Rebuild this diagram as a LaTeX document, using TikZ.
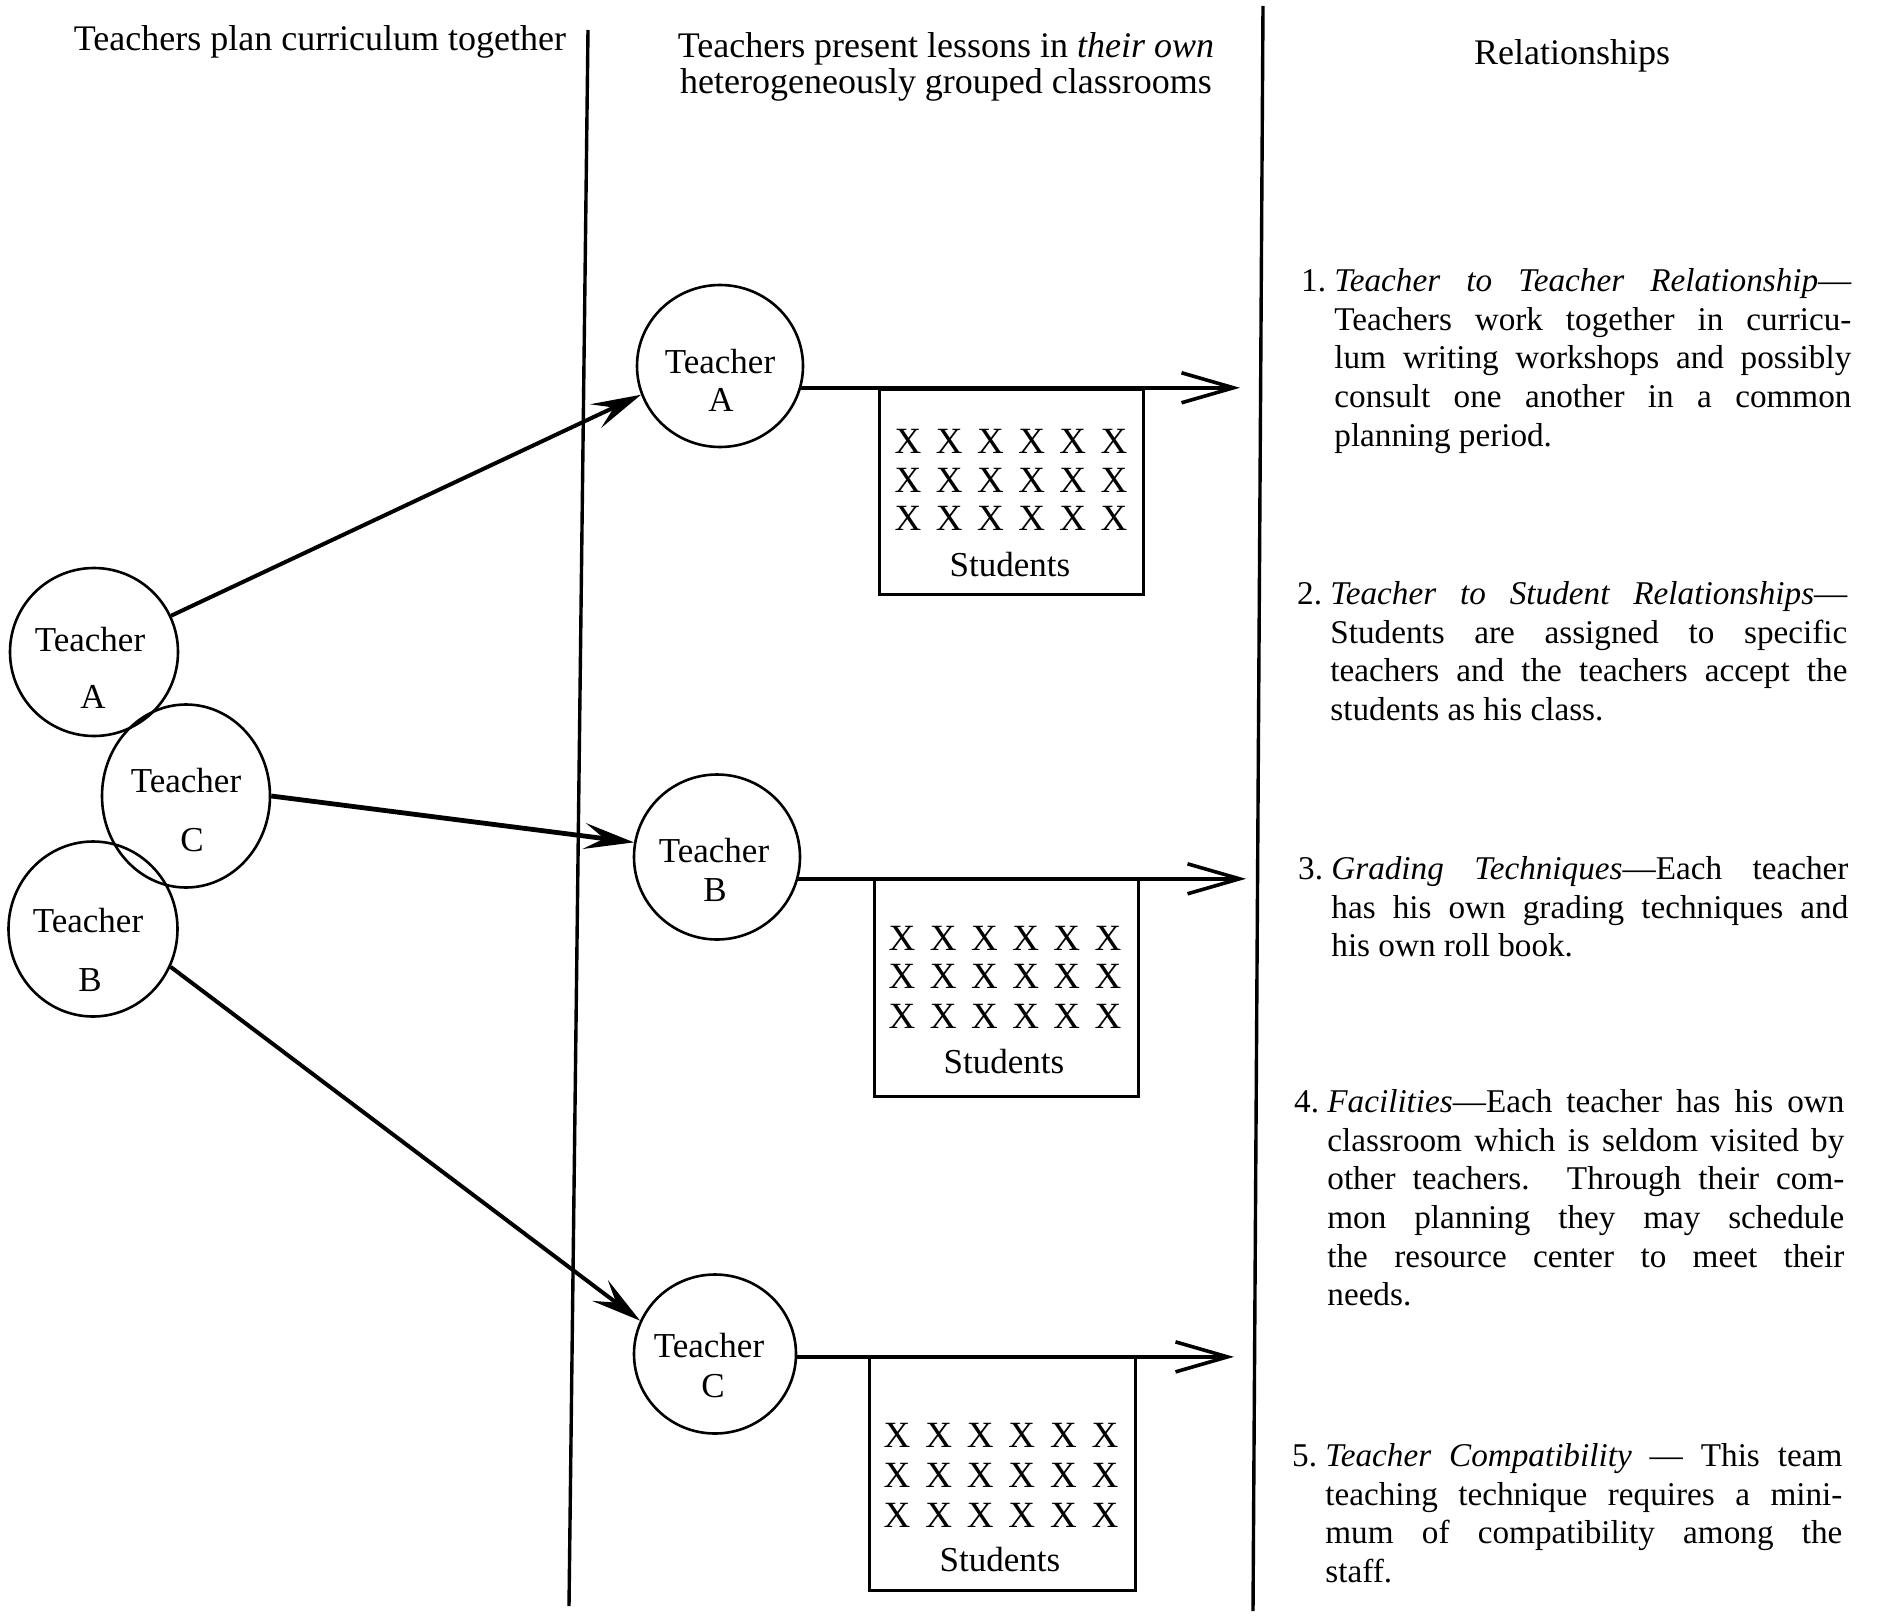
\documentclass[tikz,border=0pt]{standalone}
\usepackage{fontspec}
\setmainfont{Liberation Serif}
\usetikzlibrary{arrows.meta,shapes.geometric}
\newlength\relw
\setlength\relw{258.5pt}
\newcommand\jline[1]{\noindent\hbox to\relw{#1}\par}
\newcommand\lline[1]{\noindent\hbox to\relw{#1\hfil}\par}
\newcommand\relblock[1]{\vbox{\hsize=\relw\parindent=0pt\parskip=0pt\fontsize{16.6pt}{19.35pt}\selectfont #1}}
\begin{document}
\begin{tikzpicture}[x=0.5pt,y=-0.5pt,
  tc/.style={draw,ellipse,line width=1.3pt,inner sep=0pt},
  tt/.style={font=\fontsize{17.5pt}{20pt}\selectfont,inner sep=0pt},
  ttl/.style={font=\fontsize{18pt}{18pt}\selectfont,inner sep=0pt,align=center},
  sbox/.style={draw,line width=1.6pt,rectangle,inner sep=0pt,anchor=north west},
  xm/.style={font=\fontsize{18.5pt}{20pt}\selectfont,inner sep=0pt},
  rel/.style={anchor=north west,inner sep=0pt},
  harrow/.style={line width=1.8pt,-{Straight Barb[length=26pt,width=15pt]}},
  darrow/.style={line width=2pt,-{Stealth[length=25pt,width=13pt,inset=10pt]}},
  divider/.style={line width=1.7pt}]

\fill[white] (0,0) rectangle (1885,1616);
\useasboundingbox (0,0) rectangle (1885,1616);

% dividers
\draw[divider] (588,30) -- (569,1606);
\draw[divider] (1263,6) -- (1253,1611);

% titles
\node[ttl] (t1) at (320,42) {Teachers\ plan\ curriculum\ together};
\node[ttl] (t2) at (946,67) {Teachers present lessons in \textit{their own}\\heterogeneously grouped classrooms};
\node[ttl] (t3) at (1572,56) {Relationships};

% left circles
\node[tc,minimum width=84pt,minimum height=84pt] (lA) at (94,652) {};
\node[tc,minimum width=84pt,minimum height=91.5pt] (lC) at (186,796) {};
\node[tc,minimum width=84.5pt,minimum height=87.5pt] (lB) at (93,929) {};
\node[tt] (lAt) at (90,640) {Teacher};
\node[tt] (lAl) at (93,697) {A};
\node[tt] (lCt) at (186,781) {Teacher};
\node[tt] (lCl) at (192,840) {C};
\node[tt] (lBt) at (88,921) {Teacher};
\node[tt] (lBl) at (90,980) {B};

% middle circles
\node[tc,minimum width=83pt,minimum height=81pt] (mA) at (720,366) {};
\node[tc,minimum width=83pt,minimum height=82.5pt] (mB) at (717,857) {};
\node[tc,minimum width=81pt,minimum height=79.5pt] (mC) at (715,1354) {};
\node[tt] (mAt) at (720,362) {Teacher};
\node[tt] (mAl) at (721,400) {A};
\node[tt] (mBt) at (714,851) {Teacher};
\node[tt] (mBl) at (715,890) {B};
\node[tt] (mCt) at (709,1346) {Teacher};
\node[tt] (mCl) at (713,1386) {C};

% diagonal arrows
\draw[darrow] (lA) -- (mA.200);
\draw[darrow,line width=2.4pt] (lC.east) -- (mB.170);
\draw[darrow] (lB.-26) -- (mC.156);

% student boxes
\node[sbox,minimum width=132pt,minimum height=102.5pt] (sA) at (878,388) {};
\node[sbox,minimum width=132pt,minimum height=108.5pt] (sB) at (873,878) {};
\node[sbox,minimum width=133pt,minimum height=116.5pt] (sC) at (868,1356) {};

\foreach \r/\y in {0/441,1/480,2/518}
  \foreach \c in {0,...,5}
    \node[xm] (xA\r\c) at ({908+41.2*\c},\y) {X};
\foreach \r/\y in {0/938,1/976,2/1016}
  \foreach \c in {0,...,5}
    \node[xm] (xB\r\c) at ({902+41.2*\c},\y) {X};
\foreach \r/\y in {0/1435,1/1475,2/1515}
  \foreach \c in {0,...,5}
    \node[xm] (xC\r\c) at ({897+41.6*\c},\y) {X};
\node[tt] (stA) at (1010,565) {Students};
\node[tt] (stB) at (1004,1062) {Students};
\node[tt] (stC) at (1000,1560) {Students};

% horizontal arrows
\coordinate (eA) at (1240,394);
\coordinate (eB) at (1246,881);
\coordinate (eC) at (1234,1358);
\draw[harrow] (mA.-15) -- (mA.-15 -| eA);
\draw[harrow] (mB.-15) -- (mB.-15 -| eB);
\draw[harrow] (mC.-2) -- (mC.-2 -| eC);

% relationships
\node[rel] (r1) at (1334,268) {\relblock{%
\jline{\llap{1.\ }\textit{Teacher to Teacher Relationship}---}
\jline{Teachers work together in curricu-}
\jline{lum writing workshops and possibly}
\jline{consult one another in a common}
\lline{planning period.}}};
\node[rel] (r2) at (1330,581) {\relblock{%
\jline{\llap{2.\ }\textit{Teacher to Student Relationships}---}
\jline{Students are assigned to specific}
\jline{teachers and the teachers accept the}
\lline{students as his class.}}};
\node[rel] (r3) at (1331,856) {\relblock{%
\jline{\llap{3.\ }\textit{Grading Techniques}---Each teacher}
\jline{has his own grading techniques and}
\lline{his own roll book.}}};
\node[rel] (r4) at (1327,1089) {\relblock{%
\jline{\llap{4.\ }\textit{Facilities}---Each teacher has his own}
\jline{classroom which is seldom visited by}
\jline{other teachers. Through their com-}
\jline{mon planning they may schedule}
\jline{the resource center to meet their}
\lline{needs.}}};
\node[rel] (r5) at (1325,1443) {\relblock{%
\jline{\llap{5.\ }\textit{Teacher Compatibility} --- This team}
\jline{teaching technique requires a mini-}
\jline{mum of compatibility among the}
\lline{staff.}}};
\end{tikzpicture}
\end{document}
